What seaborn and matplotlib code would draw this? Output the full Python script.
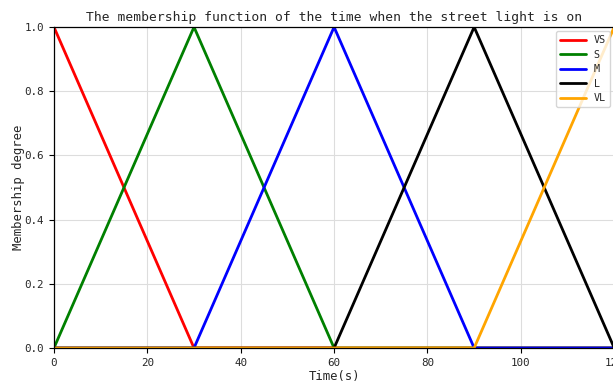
import numpy as np
import pandas as pd
import matplotlib
matplotlib.use("Agg")
import matplotlib.pyplot as plt
import seaborn as sns

time_s = [0, 30, 60, 90, 120]
VS = [1, 0, 0, 0, 0]
S = [0, 1, 0, 0, 0]
M = [0, 0, 1, 0, 0]
L = [0, 0, 0, 1, 0]
VL = [0, 0, 0, 0, 1]
labels = ["VS", "S", "M", "L", "VL"]
colors = ["red", "green", "blue", "black", "orange"]

sns.set_style("ticks")
plt.rcParams['font.family'] = ['DejaVu Sans Mono']

fig = plt.figure(figsize=(6.13, 3.83), dpi=100)
ax = fig.add_axes([0.088, 0.0914, 0.914, 0.838])

for lab, vals, c in zip(labels, [VS, S, M, L, VL], colors):
    df = pd.DataFrame({"t": time_s, "v": vals})
    sns.lineplot(data=df, x="t", y="v", ax=ax, color=c, linewidth=2, label=lab)

ax.set_xlim(0, 120)
ax.set_ylim(0, 1)
ax.set_xticks([0, 20, 40, 60, 80, 100, 120])
ax.set_yticks([0, 0.2, 0.4, 0.6, 0.8, 1.0])
ax.grid(True, color="#dddddd", linewidth=0.8)
ax.tick_params(labelsize=7.8, length=3.5, width=0.8, color="black")
for s in ax.spines.values():
    s.set_linewidth(0.9)
    s.set_color("black")
ax.set_xlabel("Time(s)", fontsize=8.8, labelpad=2)
ax.set_ylabel("Membership degree", fontsize=8.8)
ax.yaxis.set_label_coords(-0.052, 0.5)
ax.set_title("The membership function of the time when the street light is on", fontsize=9.4, pad=4)
leg = ax.legend(loc="upper right", fontsize=7.3, handlelength=2.5, borderpad=0.4,
                labelspacing=0.45, handletextpad=0.8, borderaxespad=0.4, framealpha=0.8)
fig.savefig("out.png", dpi=100)
